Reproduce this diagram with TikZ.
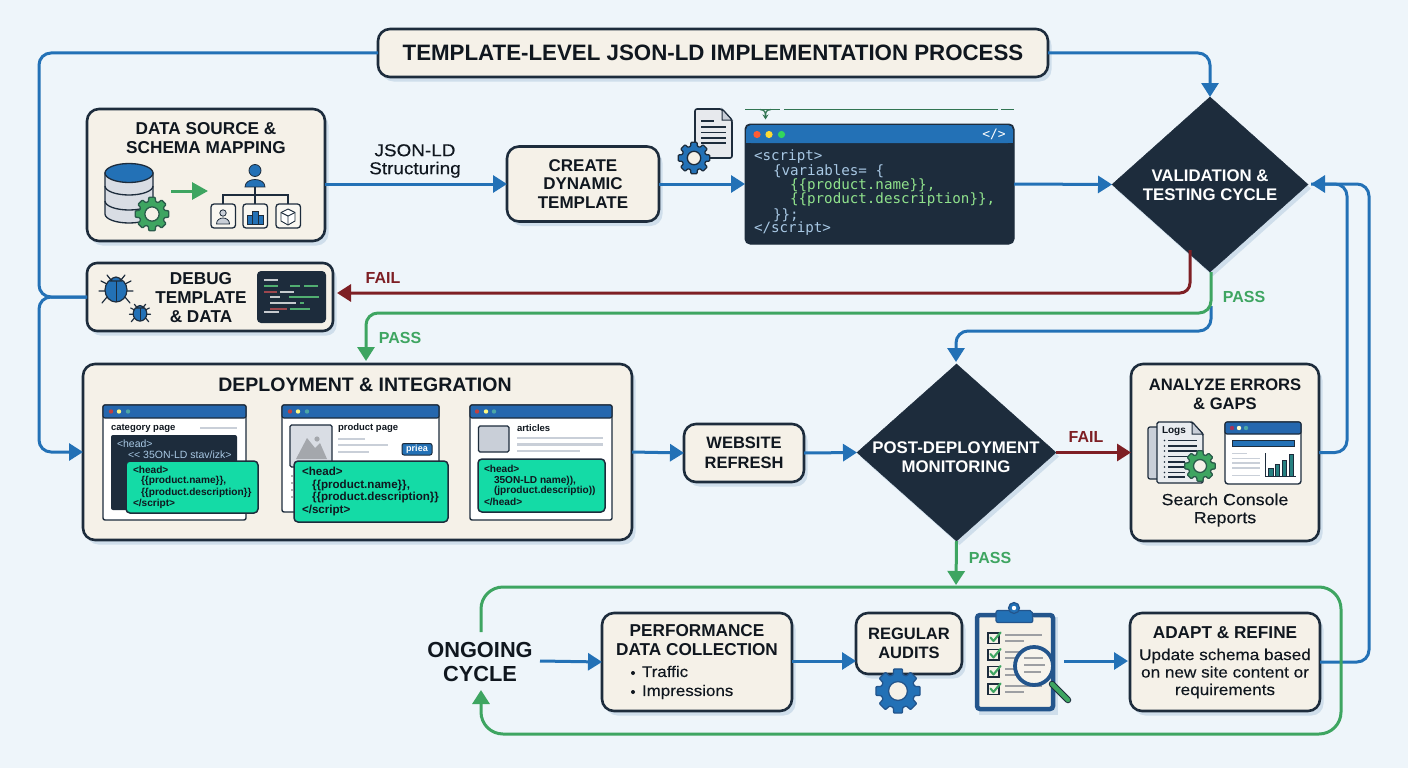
\documentclass[tikz,border=0pt]{standalone}
\usepackage{fontspec}
\setmainfont{Liberation Sans}
\newfontfamily\codefont{DejaVu Sans Mono}
\newfontfamily\widefont[FakeStretch=1.1,FakeBold=0.25]{Liberation Sans}
\usetikzlibrary{arrows.meta,shapes.geometric,shadows,calc}
\definecolor{bgc}{HTML}{EEF5FA}
\definecolor{inkc}{HTML}{1D2C3C}
\definecolor{txtc}{HTML}{10171F}
\definecolor{creamc}{HTML}{F5F1E8}
\definecolor{shadc}{HTML}{CFDEEB}
\definecolor{bluec}{HTML}{2371B6}
\definecolor{greenc}{HTML}{3EA561}
\definecolor{redc}{HTML}{7E1F24}
\definecolor{tealc}{HTML}{14DBA6}
\definecolor{barc}{HTML}{2567AE}
\definecolor{greyc}{HTML}{C9CFD8}
\definecolor{codeblue}{HTML}{A8C8E4}
\definecolor{codegreen}{HTML}{90E28C}
\newcommand\fz[2]{\fontsize{#1}{#2}\selectfont}
\newcommand\gearicon[5]{%
  \begin{scope}[shift={(#1,#2)}]
  \path[draw=#5,fill=#4,line width=1.3,line join=round,rounded corners=0.8]
    ({-16}:{#3*.76})
    \foreach \a in {0,45,...,315}{ -- ({\a-16}:{#3*.76}) -- ({\a-11}:{#3}) -- ({\a+11}:{#3}) -- ({\a+16}:{#3*.76}) } -- cycle;
  \path[draw=#5,fill=creamc,line width=1.3] (0,0) circle ({#3*.42});
  \end{scope}}
\newcommand\bugicon[3]{%
  \begin{scope}[shift={(#1,#2)},scale=#3]
  \draw[inkc,line width=1.2,line cap=round]
    (-5,-9)--(-9,-14) (5,-9)--(9,-14)
    (-9,-5)--(-15,-8) (9,-5)--(15,-8)
    (-11,2)--(-17,2) (11,2)--(17,2)
    (-9,8)--(-14,14) (9,8)--(14,14);
  \path[draw=inkc,fill=bluec,line width=1.2] (0,1) ellipse (11 and 12);
  \path[draw=inkc,fill=bluec,line width=1.2] (-5,-8) arc (180:360:5 and 4) -- cycle;
  \draw[inkc,line width=1] (0,-8)--(0,13);
  \end{scope}}
\tikzset{
  every node/.style={inner sep=0,outer sep=0,text=txtc},
  boxs/.style={draw=inkc,fill=creamc,line width=2.6,rounded corners=12,align=center,font=\bfseries,
    drop shadow={shadow xshift=3.5pt,shadow yshift=-4.5pt,fill=shadc,opacity=1}},
  dia/.style={diamond,draw=inkc,fill=inkc,aspect=1.1,align=center,
    drop shadow={shadow xshift=3pt,shadow yshift=-4pt,fill=shadc,opacity=1}},
  diat/.style={align=center,font=\bfseries\fz{16.8}{19.5},text=white},
  flow/.style={draw=bluec,line width=3,rounded corners=12,-{Triangle[length=14,width=17]}},
  flowp/.style={draw=bluec,line width=3,rounded corners=12},
  gflow/.style={draw=greenc,line width=3,rounded corners=12,-{Triangle[length=14,width=17]}},
  gflowp/.style={draw=greenc,line width=3,rounded corners=12},
  rflow/.style={draw=redc,line width=3,rounded corners=10,-{Triangle[length=14,width=17]}},
  lab/.style={font=\bfseries\fz{16}{19}},
  win/.style={draw=inkc,fill=white,line width=1.4,rounded corners=2},
  bar/.style={fill=barc,draw=inkc,line width=1.2,rounded corners=2},
  greyl/.style={draw=greyc,line width=2.2},
  tcard/.style={draw=inkc,fill=tealc,line width=1.5,rounded corners=4},
  ct/.style={anchor=west,font=\codefont\fz{14.2}{17},text=codeblue},
  cg/.style={anchor=west,font=\codefont\fz{14.2}{17},text=codegreen},
  ws/.style={anchor=west,font=\bfseries\fz{9.5}{11}},
  wc/.style={anchor=west,font=\bfseries\fz{10.1}{12}},
}
\begin{document}
\begin{tikzpicture}[x=1pt,y=-1pt]
\useasboundingbox (0,0) rectangle (1408,768);
\fill[bgc] (0,0) rectangle (1408,768);

% ---- main nodes
\node[boxs,minimum width=670,minimum height=48] (title) at (713,53) {\fz{22.3}{26}TEMPLATE-LEVEL JSON-LD IMPLEMENTATION PROCESS};
\node[boxs,minimum width=238,minimum height=132] (data) at (206,175) {};
\node[anchor=center,align=center,font=\bfseries\fz{17.2}{19}] (datat) at (206,138) {DATA SOURCE \&\\SCHEMA MAPPING};
\node[boxs,minimum width=152,minimum height=75,font=\bfseries\fz{17}{18.7}] (create) at (583,184) {CREATE\\DYNAMIC\\TEMPLATE};
\node[draw=inkc,fill=inkc,line width=1,rounded corners=5,minimum width=269,minimum height=120] (code) at (879.5,184) {};
\node[dia,minimum width=196,minimum height=175] (valid) at (1210,184.5) {};
\node[diat] (validt) at (1210,185) {VALIDATION \&\\TESTING CYCLE};
\node[boxs,minimum width=246,minimum height=68,rounded corners=10] (debug) at (210,297) {};
\node[anchor=center,align=center,font=\bfseries\fz{17.2}{19}] (debugt) at (201,298) {DEBUG\\TEMPLATE\\\& DATA};
\node[boxs,minimum width=549,minimum height=176] (deploy) at (357.5,452) {};
\node[font=\bfseries\fz{19.5}{24}] (deployt) at (365,385) {DEPLOYMENT \& INTEGRATION};
\node[boxs,minimum width=120,minimum height=58,font=\bfseries\fz{16.5}{20}] (refresh) at (744,453) {WEBSITE\\REFRESH};
\node[dia,minimum width=199,minimum height=177] (post) at (956.5,452.5) {};
\node[diat] (postt) at (956,457) {POST-DEPLOYMENT\\MONITORING};
\node[boxs,minimum width=188,minimum height=177] (analyze) at (1225,452.5) {};
\node[align=center,font=\bfseries\fz{16.6}{19}] (analyzet) at (1225,394.5) {ANALYZE ERRORS\\\& GAPS};
\node[align=center,font=\widefont\fz{16.2}{18}] (consolet) at (1225,510) {Search Console\\Reports};
\node[align=center,font=\bfseries\fz{21.8}{24}] (ongoing) at (480,662) {ONGOING\\CYCLE};
\node[boxs,minimum width=190,minimum height=98] (perf) at (697,662) {};
\node[align=center,font=\bfseries\fz{17.2}{19}] (perft) at (697,640.5) {PERFORMANCE\\DATA COLLECTION};
\node[anchor=west,font=\widefont\fz{15.4}{19},align=left] (perfl) at (642,682.5) {Traffic\\Impressions};
\fill[txtc] (633,673) circle (2) (633,692) circle (2);
\node[boxs,minimum width=106,minimum height=61,font=\bfseries\fz{16.5}{19}] (audits) at (909,643.5) {REGULAR\\AUDITS};
\node[boxs,minimum width=190,minimum height=98] (adapt) at (1225,662) {};
\node[font=\bfseries\fz{17.2}{19}] (adaptt) at (1225,633) {ADAPT \& REFINE};
\node[align=center,font=\widefont\fz{15.6}{17.5}] (adaptb) at (1225,673.5) {Update schema based\\on new site content or\\requirements};
\coordinate (clipr) at (1064,661);
\coordinate (clipl) at (1128,661);

% ---- waypoints
\coordinate (lft) at (39,297);
\coordinate (rin) at (1311,184);
\coordinate (rtA) at (1347,184);
\coordinate (rtB) at (1369,184);
\coordinate (vfail) at (1190,250);
\coordinate (failend) at (337,293);
\coordinate (gturn) at (1211,313);
\coordinate (passtip) at (366,361);
\coordinate (bstart) at (1211,306);
\coordinate (bturn) at (1211,331);
\coordinate (posttip) at (956,362);
\coordinate (loopL) at (481,632);
\coordinate (loopE) at (481,690);
\coordinate (loopTL) at (481,587);
\coordinate (loopBR) at (1341,734);
\coordinate (passend) at (956,585);
\coordinate (ong) at (540,661);

% ---- connectors
\draw[flowp] (title.west) -- (title.west -| lft) -- (lft) -- (debug.west);
\draw[flow] (debug.west) -- (lft) -- (lft |- deploy.west) -- (deploy.west);
\draw[flow] (title.east) -- (title.east -| valid.north) -- (valid.north);
\draw[flow] (data.east |- create.west) -- (create.west);
\draw[flow] (create.east) -- (code.west);
\draw[flow] (code.east) -- (valid.west);
\draw[flowp] (analyze.east) -- (analyze.east -| rtA) -- (rtA) -- (rin);
\draw[flow] (adapt.east) -- (adapt.east -| rtB) -- (rtB) -- (rin);
\draw[rflow] (vfail) -- (vfail |- failend) -- (failend);
\draw[flow] (bstart) -- (bturn) -- (bturn -| posttip) -- (posttip);
\draw[gflow] (gturn |- valid.south) -- (gturn) -- (gturn -| passtip) -- (passtip);
\draw[flow] (deploy.east) -- (refresh.west);
\draw[flow] (refresh.east) -- (post.west);
\draw[rflow] (post.east) -- (analyze.west);
\draw[gflow] (post.south) -- (passend);
\draw[gflow,rounded corners=22] (loopL) -- (loopTL) -- (loopTL -| loopBR) -- (loopBR) -- (loopBR -| loopE) -- (loopE);
\draw[flow] (ong) -- (perf.west);
\draw[flow] (perf.east |- ong) -- (audits.west |- ong);
\draw[flow] (clipr) -- (clipl);

% ---- connector labels
\node[align=center,font=\widefont\fz{17.2}{18}] (jsonl) at (415,161) {JSON-LD\\Structuring};
\node[lab,text=redc] (fail1) at (383,278) {FAIL};
\node[lab,text=greenc] (pass1) at (1244,297) {PASS};
\node[lab,text=greenc] (pass2) at (400,338) {PASS};
\node[lab,text=redc] (fail2) at (1086,437) {FAIL};
\node[lab,text=greenc] (pass3) at (990,558) {PASS};

% ---- data source icons
\path[draw=inkc,fill=greyc!70,line width=1.3] (105,173) -- (105,214) arc (180:0:24 and 9) -- (153,173) -- cycle;
\draw[inkc,line width=1.3] (105,186) arc (180:0:24 and 9) (105,201) arc (180:0:24 and 9);
\path[draw=inkc,fill=bluec,line width=1.3] (129,173) ellipse (24 and 9.5);
\gearicon{152}{214}{17}{greenc}{inkc!60!greenc}
\draw[greenc,line width=3,-{Triangle[length=16,width=17]}] (171,191) -- (208,191);
\path[draw=inkc,fill=bluec,line width=.8] (255,170.5) circle (6);
\path[draw=inkc,fill=bluec,line width=.8] (245,187) .. controls (245,177) and (265,177) .. (265,187) -- cycle;
\draw[inkc,line width=1.2] (255,187)--(255,204) (223,204)--(223,195)--(288,195)--(288,204);
\foreach \bx in {211,243,276}{\path[draw=inkc,fill=creamc!60!white,line width=1.3,rounded corners=3] (\bx,204) rectangle ++(24.5,24);}
\path[draw=inkc,fill=greyc,line width=.8] (223,213) circle (3.2);
\path[draw=inkc,fill=greyc,line width=.8] (216.5,224) .. controls (216.5,216) and (229.5,216) .. (229.5,224) -- cycle;
\path[draw=inkc,fill=bluec,line width=.6] (247,215) rectangle ++(5,9) (252,211) rectangle ++(6,13) (258,215) rectangle ++(5,9);
\path[draw=inkc,fill=white,line width=.9,line join=round] (288,209) -- (295,212.5) -- (295,221) -- (288,225) -- (281,221) -- (281,212.5) -- cycle;
\draw[inkc,line width=.9] (281,212.5) -- (288,216) -- (295,212.5) (288,216) -- (288,225);

% ---- template doc icon
\path[draw=inkc,fill=greyc!45,line width=1.6,rounded corners=2,line join=round] (695,109) -- (722,109) -- (732,120) -- (732,158) -- (695,158) -- cycle;
\path[draw=inkc,fill=greyc,line width=1] (722,109) -- (722,120) -- (732,120) -- cycle;
\draw[inkc,line width=1.3] (701,121)--(714,121) (701,127)--(726,127) (701,132.5)--(726,132.5) (701,138)--(726,138) (701,143)--(726,143);
\gearicon{694}{158}{16}{bluec}{inkc}

% ---- green fragment above code window
\draw[greenc!60!inkc,line width=1.6] (745,109.5)--(780,109.5) (784,109.5)--(998,109.5) (1001,109.5)--(1014,109.5);
\draw[greenc!60!inkc,line width=1.3,-{Stealth[length=5,width=6]}] (760,109.5) .. controls (765,110) and (765.5,112) .. (765.5,119.5);
\draw[greenc!60!inkc,line width=1.3] (771,109.5) .. controls (766,110) and (765.5,112) .. (765.5,116);

% ---- code window
\path[fill=bluec,rounded corners=5] (746,125) -- (1013,125) -- (1013,143) -- (746,143) -- cycle;
\fill[bluec] (746,135) rectangle (1013,143);
\fill[fill=red!60!orange!80!white] (757,134.5) circle (3.6);
\fill[yellow!70!orange!80!white] (769,134.5) circle (3.6);
\fill[green!60!teal!80!white] (781.5,134.5) circle (3.6);
\node[font=\codefont\fz{13}{15},text=white] (codet) at (994,134) {</>};
\node[ct] (c1) at (754,157) {<script>};
\node[ct] (c2) at (773,171) {\{variables= \{};
\node[cg] (c3) at (790,186) {\{\{product.name\}\},};
\node[cg] (c4) at (790,200) {\{\{product.description\}\},};
\node[ct] (c5) at (773,215) {\}\};};
\node[ct] (c6) at (754,229) {</script>};

% ---- debug icons
\bugicon{116}{289}{1}
\bugicon{140}{313}{0.62}
\path[fill=inkc,rounded corners=4] (257,271) rectangle (326,323);
\draw[white!75!inkc,line width=1.2] (264,280)--(278,280) (264,312)--(279,312) (270,297)--(280,297) (270,303)--(296,303);
\draw[greenc!90!white,line width=1.2] (264,286)--(278,286) (290,286)--(300,286) (304,286)--(318,286) (289,297)--(319,297) (300,303)--(304,303) (290,309)--(310,309);
\draw[red!45!inkc!80!white,line width=1.2] (264,292)--(277,292) (270,309)--(287,309);
\draw[white!75!inkc,line width=1.2] (280,292)--(294,292);

% ---- window 1
\path[win] (103,405) rectangle (246,520);
\path[bar] (103,405) rectangle (246,418);
\fill[red!50!gray] (111,411.5) circle (2.2);
\fill[yellow!50!white] (119,411.5) circle (2.2);
\fill[teal!70!white] (128,411.5) circle (2.2);
\node[ws] (w1a) at (111,428) {category page};
\draw[greyl] (200,428)--(237,428);
\path[fill=inkc,rounded corners=2] (111,435) rectangle (237,510);
\node[anchor=west,font=\fz{10.5}{12},text=codeblue] (w1b) at (117,444) {<head>};
\node[anchor=west,font=\fz{10.5}{12},text=codeblue] (w1c) at (128,455) {<{}< 35ON-LD stav/izk>};
\path[tcard] (126,461) rectangle (258,513);
\node[wc] (w1d) at (133,470) {<head>};
\node[wc] (w1e) at (141,481) {\{\{product.name\}\},};
\node[wc] (w1f) at (141,492.5) {\{\{product.description\}\}};
\node[wc] (w1g) at (133,504) {</script>};

% ---- window 2
\path[win] (282,405) rectangle (439,512);
\path[bar] (282,405) rectangle (439,418);
\fill[red!50!gray] (290,411.5) circle (2.2);
\fill[yellow!50!white] (298,411.5) circle (2.2);
\fill[teal!70!white] (307,411.5) circle (2.2);
\path[draw=inkc,fill=greyc!70,line width=1.2,rounded corners=1.5] (290,425) rectangle (332,467);
\path[fill=gray!50!greyc] (296,459) -- (307,438) -- (315,448) -- (320,443) -- (327,459) -- cycle;
\fill[gray!50!greyc] (317,439) circle (2.6);
\node[ws] (w2a) at (338,428) {product page};
\draw[greyl] (338,439)--(365,439) (338,445)--(388,445) (338,452)--(369,452);
\path[draw=inkc,fill=bluec,line width=1,rounded corners=2] (402,443.5) rectangle (432,455);
\node[font=\bfseries\fz{9}{10},text=white] (w2b) at (417,449.5) {priea};
\draw[greyl,gray!60,line width=1.4] (291,476)--(293,476) (291,483)--(293,483) (291,490)--(293,490) (291,497)--(293,497);
\path[tcard] (294,461) rectangle (448,522);
\node[anchor=west,font=\bfseries\fz{11.6}{14}] (w2c) at (302,471) {<head>};
\node[anchor=west,font=\bfseries\fz{11.6}{14}] (w2d) at (312,485) {\{\{product.name\}\},};
\node[anchor=west,font=\bfseries\fz{11.6}{14}] (w2e) at (312,497) {\{\{product.description\}\}};
\node[anchor=west,font=\bfseries\fz{11.6}{14}] (w2f) at (302,510) {</script>};

% ---- window 3
\path[win] (470,405) rectangle (612,520);
\path[bar] (470,405) rectangle (612,418);
\fill[red!50!gray] (477,411.5) circle (2.2);
\fill[yellow!50!white] (486,411.5) circle (2.2);
\fill[teal!70!white] (494,411.5) circle (2.2);
\path[draw=inkc,fill=greyc,line width=1.2,rounded corners=1.5] (478.5,426) rectangle (509,452);
\node[ws] (w3a) at (517,428) {articles};
\draw[greyl] (517,438)--(603,438) (517,444.5)--(603,444.5) (517,451)--(580,451);
\path[tcard] (478,459) rectangle (605,512);
\node[wc] (w3b) at (484,469) {<head>};
\node[wc] (w3c) at (494,481) {35ON-LD name)),};
\node[wc] (w3d) at (494,491) {(jproduct.descriptio))};
\node[wc] (w3e) at (484,502) {</head>};

% ---- analyze icons
\path[draw=inkc,fill=greyc,line width=1.2,rounded corners=2] (1148,427) rectangle (1160,479);
\path[draw=inkc,fill=greyc!40!white,line width=1.4,rounded corners=1.5,line join=round] (1157,422) -- (1192,422) -- (1203,434) -- (1203,483) -- (1157,483) -- cycle;
\path[draw=inkc,fill=greyc,line width=1] (1192,422) -- (1192,434) -- (1203,434) -- cycle;
\node[anchor=west,font=\bfseries\fz{10}{12}] (logs) at (1162,431) {Logs};
\draw[inkc,line width=1.1] (1168,440.5)--(1197,440.5) (1168,446)--(1197,446) (1168,451)--(1197,451) (1168,456.5)--(1190,456.5) (1168,462)--(1185,462) (1168,467)--(1185,467) (1168,472.5)--(1185,472.5) (1168,477)--(1185,477);
\foreach \yy in {440.5,446,451,456.5,462,467,472.5,477}{\fill[inkc] (1164.5,\yy) circle (.9);}
\gearicon{1200}{466}{15.5}{greenc}{inkc!60!greenc}
\path[win,rounded corners=3] (1225,422) rectangle (1301,484);
\path[bar] (1225,422) rectangle (1301,434);
\fill[purple!60!gray] (1232,428) circle (2.2);
\fill[yellow!20!white] (1239,428) circle (2.2);
\fill[teal!70!white] (1246,428) circle (2.2);
\path[draw=inkc,fill=bluec,line width=.6] (1232,440) rectangle (1294,446);
\draw[greyl,line width=1.2] (1232,453.5)--(1247,453.5) (1232,458.5)--(1260,458.5) (1232,463)--(1260,463) (1232,468)--(1260,468) (1232,475.5)--(1260,475.5);
\draw[inkc,line width=1] (1265.5,453)--(1265.5,476)--(1296,476);
\path[draw=inkc,fill=teal!70!gray,line width=.7] (1268.5,468) rectangle (1273,476) (1275,464) rectangle (1279.5,476) (1282,460) rectangle (1286.5,476) (1289,454) rectangle (1293.5,476);

% ---- audits icons
\gearicon{898}{691}{22.5}{bluec}{barc!70!inkc}
\path[fill=shadc] (979,617) rectangle (1058,715);
\path[draw=barc!70!inkc,fill=creamc,line width=4.5,rounded corners=3] (977,615) rectangle (1053,709);
\path[draw=barc!70!inkc,fill=bluec,line width=1.2,rounded corners=2] (996,610.5) -- (1032,610.5) -- (1033,622.5) -- (996,622.5) -- cycle;
\path[draw=barc!70!inkc,fill=bluec,line width=1.2] (1014,608) circle (5.5);
\path[fill=white] (1014,608) circle (2.2);
\foreach \yy in {633,649.5,666.5,684}{
  \path[draw=inkc,fill=creamc,line width=1.1] (988,\yy) rectangle ++(11,10.5);
  \draw[greenc,line width=2.1,line cap=round,line join=round] (990.5,\yy+4.5) -- (993.5,\yy+8) -- (1000.5,\yy-.5);
  \draw[greyl,gray!60!greyc,line width=2] (1005,\yy+2)--(1042,\yy+2) (1005,\yy+8)--(1024,\yy+8);
}
\draw[inkc,line width=6.5,line cap=round] (1052,684)--(1068,700);
\draw[greenc,line width=4.5,line cap=round] (1052,684)--(1068,700);
\path[draw=barc!70!inkc,fill=creamc!80!white,line width=3.8] (1034,666) circle (19);
\draw[greyl,gray!60!greyc,line width=2] (1024,658)--(1043,658) (1024,665)--(1045,665) (1024,672)--(1041,672);
\end{tikzpicture}
\end{document}
